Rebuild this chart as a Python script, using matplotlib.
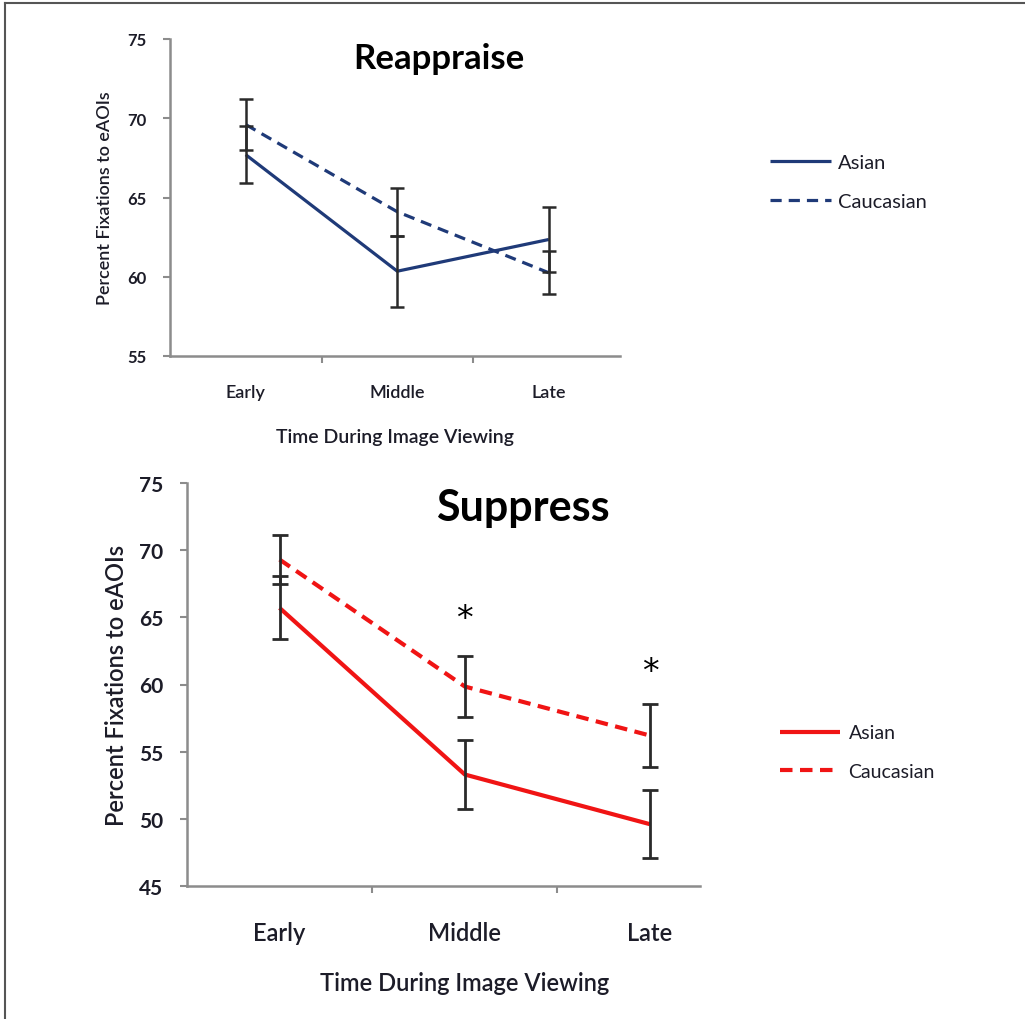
import matplotlib
matplotlib.use("Agg")
import matplotlib.pyplot as plt
from matplotlib.lines import Line2D
import numpy as np

categories = ["Early", "Middle", "Late"]
groups = ["Asian", "Caucasian"]

reappraise_asian = [67.7, 60.35, 62.35]
reappraise_asian_err = [1.8, 2.25, 2.05]
reappraise_cauc = [69.6, 64.1, 60.25]
reappraise_cauc_err = [1.6, 1.5, 1.35]

suppress_asian = [65.7, 53.3, 49.6]
suppress_asian_err = [2.35, 2.6, 2.55]
suppress_cauc = [69.3, 59.85, 56.2]
suppress_cauc_err = [1.8, 2.25, 2.35]

sig_positions = [1, 2]
sig_heights = [64.9, 61.0]

plt.rcParams['font.family'] = ['Lato', 'DejaVu Sans']

W, H = 1025, 1020
fig = plt.figure(figsize=(W / 100, H / 100), dpi=100)
fig.patch.set_facecolor('white')

# outer border (left and top)
fig.add_artist(Line2D([5 / W, 5 / W], [0, 1 - 4 / H], color='#555555', lw=1.5, transform=fig.transFigure))
fig.add_artist(Line2D([5 / W, 1], [1 - 4 / H, 1 - 4 / H], color='#555555', lw=1.5, transform=fig.transFigure))

text_col = '#1c1c28'
spine_col = '#8c8c8c'
navy = '#1f3a78'
red = '#f01414'
err_col = '#2a2a2a'


def setup_axes(ax, ylim, yticks, xright, ytick_fs, xtick_fs, xlabel_pad, ylabel_pad):
    x = np.arange(len(categories))
    ax.set_xlim(-0.5, xright)
    ax.set_ylim(*ylim)
    ax.set_yticks(yticks)
    ax.set_yticklabels([str(t) for t in yticks], fontsize=ytick_fs, color=text_col, fontweight='bold')
    ax.set_xticks(x)
    ax.set_xticklabels(categories, fontsize=xtick_fs, color=text_col, fontweight='semibold')
    ax.set_xticks([0.5, 1.5], minor=True)
    ax.tick_params(axis='x', which='major', length=0, pad=xlabel_pad)
    ax.tick_params(axis='x', which='minor', length=5, width=1.5, color=spine_col, direction='out')
    ax.tick_params(axis='y', which='major', length=5, width=1.5, color=spine_col, direction='out', pad=ylabel_pad)
    for s in ['top', 'right']:
        ax.spines[s].set_visible(False)
    for s in ['left', 'bottom']:
        ax.spines[s].set_color(spine_col)
        ax.spines[s].set_linewidth(1.8)
    ax.set_facecolor('white')
    return x


# ---------- Reappraise ----------
ax1 = fig.add_axes([170 / W, 1 - 357 / H, 450 / W, 317 / H])
x = setup_axes(ax1, (55, 75), [55, 60, 65, 70, 75], 2.47, 12, 13, 20, 12)
l1, = ax1.plot(x, reappraise_asian, color=navy, lw=2.3, solid_capstyle='butt', label=groups[0], zorder=3)
l2, = ax1.plot(x, reappraise_cauc, color=navy, lw=2.3, dashes=(3.5, 2.2), label=groups[1], zorder=3)
ax1.errorbar(x, reappraise_asian, yerr=reappraise_asian_err, fmt='none', ecolor=err_col, elinewidth=1.8, capsize=5, capthick=1.8, zorder=4)
ax1.errorbar(x, reappraise_cauc, yerr=reappraise_cauc_err, fmt='none', ecolor=err_col, elinewidth=1.8, capsize=5, capthick=1.8, zorder=4)
ax1.set_xlabel("Time During Image Viewing", fontsize=14, color=text_col, labelpad=20, fontweight='semibold')
ax1.set_ylabel("Percent Fixations to eAOIs", fontsize=13, color=text_col, labelpad=10, fontweight='semibold')
ax1.text(0.597, 0.94, "Reappraise", transform=ax1.transAxes, fontsize=25, fontweight='bold',
         color='black', ha='center', va='center')
fig.legend(handles=[l1, l2], labels=groups, loc='center left',
           bbox_to_anchor=(752 / W, 1 - 183 / H), frameon=False, fontsize=14.5,
           handlelength=3.0, handletextpad=0.35, labelspacing=1.05, labelcolor=text_col)

# ---------- Suppress ----------
ax2 = fig.add_axes([187 / W, 1 - 887 / H, 513 / W, 403 / H])
x = setup_axes(ax2, (45, 75), [45, 50, 55, 60, 65, 70, 75], 2.27, 15, 17, 25, 12)
l3, = ax2.plot(x, suppress_asian, color=red, lw=3.0, solid_capstyle='butt', label=groups[0], zorder=3)
l4, = ax2.plot(x, suppress_cauc, color=red, lw=3.0, dashes=(3.0, 1.8), label=groups[1], zorder=3)
ax2.errorbar(x, suppress_asian, yerr=suppress_asian_err, fmt='none', ecolor=err_col, elinewidth=2.0, capsize=5.5, capthick=2.0, zorder=4)
ax2.errorbar(x, suppress_cauc, yerr=suppress_cauc_err, fmt='none', ecolor=err_col, elinewidth=2.0, capsize=5.5, capthick=2.0, zorder=4)
for p, h in zip(sig_positions, sig_heights):
    ax2.text(p, h, "*", fontsize=24, ha='center', va='center', color='black', family='DejaVu Sans')
ax2.set_xlabel("Time During Image Viewing", fontsize=17, color=text_col, labelpad=20, fontweight='semibold')
ax2.xaxis.set_label_coords(0.542, -0.21)
ax2.set_ylabel("Percent Fixations to eAOIs", fontsize=17, color=text_col, labelpad=8, fontweight='semibold')
ax2.text(0.655, 0.94, "Suppress", transform=ax2.transAxes, fontsize=31, fontweight='bold',
         color='black', ha='center', va='center')
fig.legend(handles=[l3, l4], labels=groups, loc='center left',
           bbox_to_anchor=(762 / W, 1 - 753 / H), frameon=False, fontsize=14,
           handlelength=3.1, handletextpad=0.45, labelspacing=1.1, labelcolor=text_col)

fig.savefig("out.png", dpi=100, facecolor='white')
